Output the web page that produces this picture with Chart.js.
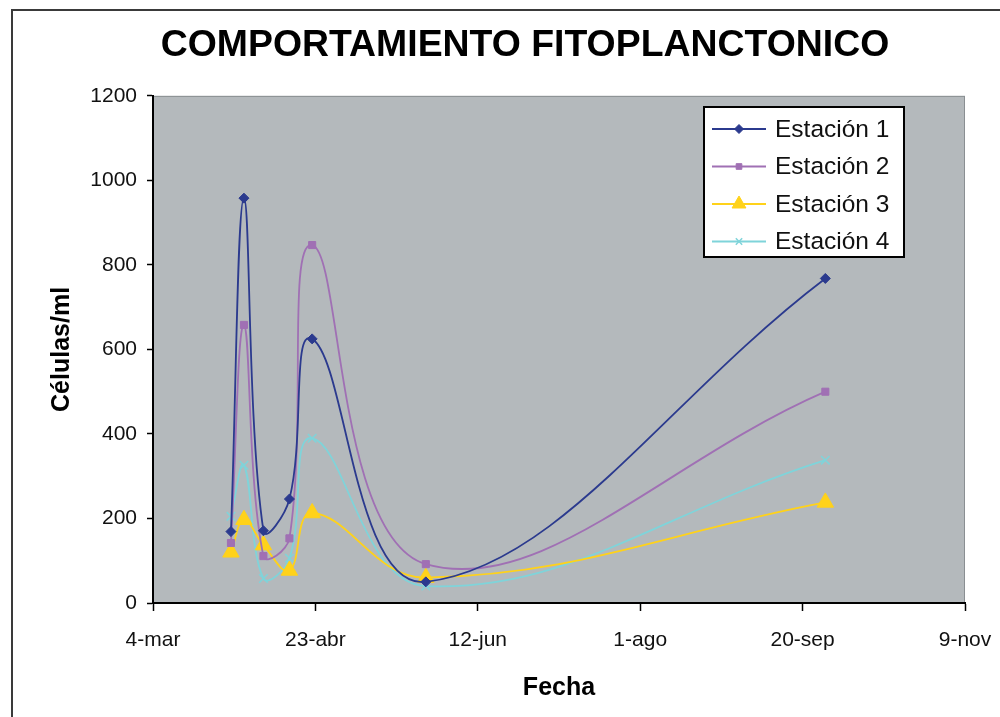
<!DOCTYPE html>
<html><head><meta charset="utf-8">
<script src="https://cdn.jsdelivr.net/npm/chart.js@4/dist/chart.umd.min.js"></script>
<style>
html,body{margin:0;padding:0;background:#fff;}
#wrap{position:relative;width:1000px;height:717px;overflow:hidden;}
#frame{position:absolute;left:11px;top:9px;width:1100px;height:800px;border:2px solid #3a3a3a;}
canvas{position:absolute;left:0;top:0;}
</style></head><body>
<div id="wrap"><div id="frame"></div><canvas id="c" width="1000" height="717"></canvas></div>
<script>
// ---- data ----
const chartTitle = 'COMPORTAMIENTO FITOPLANCTONICO';
const xAxisTitle = 'Fecha';
const yAxisTitle = 'Células/ml';
const tickLabels = ['4-mar', '23-abr', '12-jun', '1-ago', '20-sep', '9-nov'];
// sampling dates, in days after 4-mar (28-mar, 1-abr, 7-abr, 15-abr, 22-abr, 27-may, 27-sep)
const sampleDays = [24, 28, 34, 42, 49, 84, 207];
const seriesNames = ['Estación 1', 'Estación 2', 'Estación 3', 'Estación 4'];
const estacion1 = [169, 958, 171, 246, 625, 50, 768];
const estacion2 = [142, 658, 111, 153, 847, 92, 500];
const estacion3 = [120, 197, 137, 77, 213, 60, 238];
const estacion4 = [205, 326, 58, 106, 390, 40, 338];

const FONT = "'Liberation Sans', Arial, sans-serif";
const toPts = (vals) => vals.map((v, i) => ({ x: sampleDays[i], y: v }));

const styles = [
  { color: '#2b3a8e', pointStyle: 'rectRot', radius: 5, borderWidth: 1 },
  { color: '#a070b4', pointStyle: 'rect', radius: 5, borderWidth: 1 },
  { color: '#ffd21a', pointStyle: 'triangle', radius: 9.5, borderWidth: 1 },
  { color: '#7fd4da', pointStyle: 'crossRot', radius: 6, borderWidth: 1.5 }
];
const allVals = [estacion1, estacion2, estacion3, estacion4];

const datasets = allVals.map((vals, i) => ({
  label: seriesNames[i],
  data: toPts(vals),
  borderColor: styles[i].color,
  backgroundColor: styles[i].color,
  pointBackgroundColor: styles[i].color,
  pointBorderColor: styles[i].color,
  pointStyle: styles[i].pointStyle,
  pointRadius: styles[i].radius,
  pointBorderWidth: styles[i].borderWidth,
  borderWidth: 1.8,
  tension: 0.4,
  fill: false
}));

const plotBg = {
  id: 'plotBg',
  beforeDraw(chart) {
    const { ctx, chartArea: a } = chart;
    ctx.save();
    ctx.fillStyle = '#b4b9bc';
    ctx.fillRect(a.left, a.top, a.right - a.left, a.bottom - a.top);
    ctx.strokeStyle = '#8a8f92';
    ctx.lineWidth = 1;
    ctx.strokeRect(a.left + 0.5, a.top + 0.5, a.right - a.left - 1, a.bottom - a.top - 1);
    ctx.restore();
  }
};

const boxLegend = {
  id: 'boxLegend',
  afterDraw(chart) {
    const { ctx } = chart;
    const x0 = 704, y0 = 107, w = 200, h = 150;
    ctx.save();
    ctx.fillStyle = '#ffffff';
    ctx.fillRect(x0, y0, w, h);
    ctx.strokeStyle = '#000';
    ctx.lineWidth = 2;
    ctx.strokeRect(x0, y0, w, h);
    ctx.font = '24.5px ' + FONT;
    ctx.textBaseline = 'middle';
    chart.data.datasets.forEach((ds, i) => {
      const yy = y0 + 22 + i * 37.5;
      ctx.strokeStyle = ds.borderColor;
      ctx.lineWidth = 1.8;
      ctx.beginPath();
      ctx.moveTo(x0 + 8, yy);
      ctx.lineTo(x0 + 62, yy);
      ctx.stroke();
      ctx.fillStyle = ds.pointBackgroundColor;
      ctx.strokeStyle = ds.pointBorderColor;
      ctx.lineWidth = ds.pointBorderWidth;
      const r = ds.pointStyle === 'triangle' ? 8 : (ds.pointStyle === 'rect' ? 4 : 4.5);
      Chart.helpers.drawPoint(ctx, { pointStyle: ds.pointStyle, radius: r, rotation: 0, borderWidth: ds.pointBorderWidth }, x0 + 35, yy);
      ctx.fillStyle = '#111';
      ctx.fillText(ds.label, x0 + 71, yy + 1);
    });
    ctx.restore();
  }
};

new Chart(document.getElementById('c'), {
  type: 'line',
  data: { datasets },
  plugins: [plotBg, boxLegend],
  options: {
    responsive: false,
    animation: false,
    devicePixelRatio: 1,
    layout: { padding: { left: 85, right: 35, top: 0, bottom: 0 } },
    plugins: {
      legend: { display: false },
      tooltip: { enabled: false },
      title: {
        display: true,
        text: chartTitle,
        color: '#000',
        font: { family: FONT, size: 37.4, weight: 'bold', lineHeight: 1.2 },
        padding: { top: 23, bottom: 28 }
      }
    },
    scales: {
      x: {
        type: 'linear',
        min: 0, max: 250,
        afterFit(s) { s.height = 114; s.paddingLeft = 0; s.paddingRight = 0; },
        ticks: {
          stepSize: 50,
          autoSkip: false,
          maxRotation: 0,
          padding: 17,
          color: '#111',
          font: { family: FONT, size: 21 },
          callback: (v) => tickLabels[Math.round(v / 50)]
        },
        grid: { drawOnChartArea: false, drawTicks: true, tickLength: 8, tickColor: '#000', tickWidth: 1.5 },
        border: { display: true, color: '#000', width: 2 },
        title: {
          display: true, text: xAxisTitle, color: '#000',
          font: { family: FONT, size: 25, weight: 'bold', lineHeight: 1.2 },
          padding: { top: 0, bottom: 14 }
        }
      },
      y: {
        min: 0, max: 1200,
        afterFit(s) { s.width = 68; },
        ticks: {
          stepSize: 200,
          padding: 10,
          color: '#111',
          font: { family: FONT, size: 21 },
          callback: (v) => String(v)
        },
        grid: { drawOnChartArea: false, drawTicks: true, tickLength: 6, tickColor: '#000', tickWidth: 1.5 },
        border: { display: true, color: '#000', width: 2 },
        title: {
          display: true, text: yAxisTitle, color: '#000',
          font: { family: FONT, size: 25, weight: 'bold', lineHeight: 1.0 },
          padding: { top: -35.5, bottom: 0 }
        }
      }
    }
  }
});
</script>
</body></html>
